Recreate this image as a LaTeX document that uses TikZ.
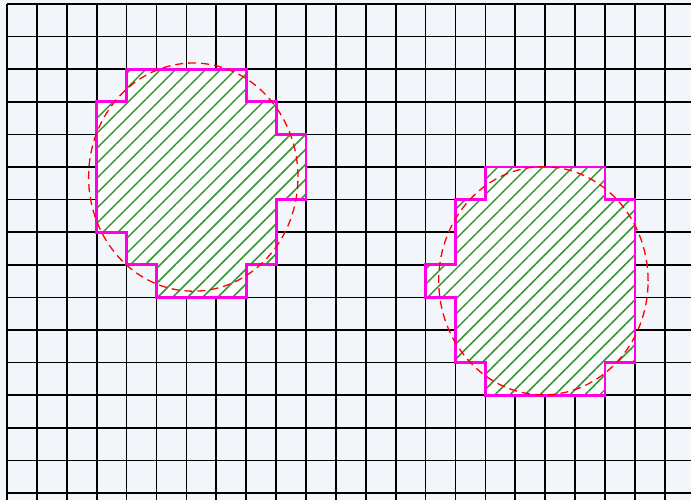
\documentclass[tikz,border=0pt]{standalone}
\usetikzlibrary{patterns.meta}
\definecolor{bgblue}{RGB}{242,246,251}
\definecolor{hatchgreen}{RGB}{50,150,50}
\definecolor{outline}{RGB}{255,0,230}
\tikzset{
  gridline/.style={line width=1.7pt, black},
  region/.style={fill=white},
  hatch/.style={pattern={Lines[angle=45,distance=10.6pt,line width=1.5pt]}, pattern color=hatchgreen},
  border/.style={draw=outline, line width=2.8pt, line join=miter},
  approx/.style={draw=red, line width=1.3pt, dash pattern=on 8pt off 5pt}
}
\begin{document}
\begin{tikzpicture}
\useasboundingbox (0pt,0pt) rectangle (691pt,500pt);
\fill[bgblue] (0pt,0pt) rectangle (691pt,500pt);
\begin{scope}[shift={(7pt,496pt)}, x=29.9pt, y=-32.6pt]
  % grid
  \foreach \i in {0,...,22} \draw[gridline] (\i,0) -- (\i,15.3);
  \foreach \j in {0,...,15} \draw[gridline] (0,\j) -- (22.9,\j);
  % left region
  \path[region] (4,2)--(8,2)--(8,3)--(9,3)--(9,4)--(10,4)--(10,6)--(9,6)--(9,8)--(8,8)--(8,9)--(5,9)--(5,8)--(4,8)--(4,7)--(3,7)--(3,3)--(4,3)--cycle;
  \path[hatch] (4,2)--(8,2)--(8,3)--(9,3)--(9,4)--(10,4)--(10,6)--(9,6)--(9,8)--(8,8)--(8,9)--(5,9)--(5,8)--(4,8)--(4,7)--(3,7)--(3,3)--(4,3)--cycle;
  \draw[border] (4,2)--(8,2)--(8,3)--(9,3)--(9,4)--(10,4)--(10,6)--(9,6)--(9,8)--(8,8)--(8,9)--(5,9)--(5,8)--(4,8)--(4,7)--(3,7)--(3,3)--(4,3)--cycle;
  % right region
  \path[region] (16,5)--(20,5)--(20,6)--(21,6)--(21,11)--(20,11)--(20,12)--(16,12)--(16,11)--(15,11)--(15,9)--(14,9)--(14,8)--(15,8)--(15,6)--(16,6)--cycle;
  \path[hatch] (16,5)--(20,5)--(20,6)--(21,6)--(21,11)--(20,11)--(20,12)--(16,12)--(16,11)--(15,11)--(15,9)--(14,9)--(14,8)--(15,8)--(15,6)--(16,6)--cycle;
  \draw[border] (16,5)--(20,5)--(20,6)--(21,6)--(21,11)--(20,11)--(20,12)--(16,12)--(16,11)--(15,11)--(15,9)--(14,9)--(14,8)--(15,8)--(15,6)--(16,6)--cycle;
  % circles
  \draw[approx] (6.23,5.31) ellipse [x radius=104.7pt, y radius=114.1pt];
  \draw[approx] (17.94,8.49) ellipse [x radius=104.7pt, y radius=114.1pt];
\end{scope}
\end{tikzpicture}
\end{document}
